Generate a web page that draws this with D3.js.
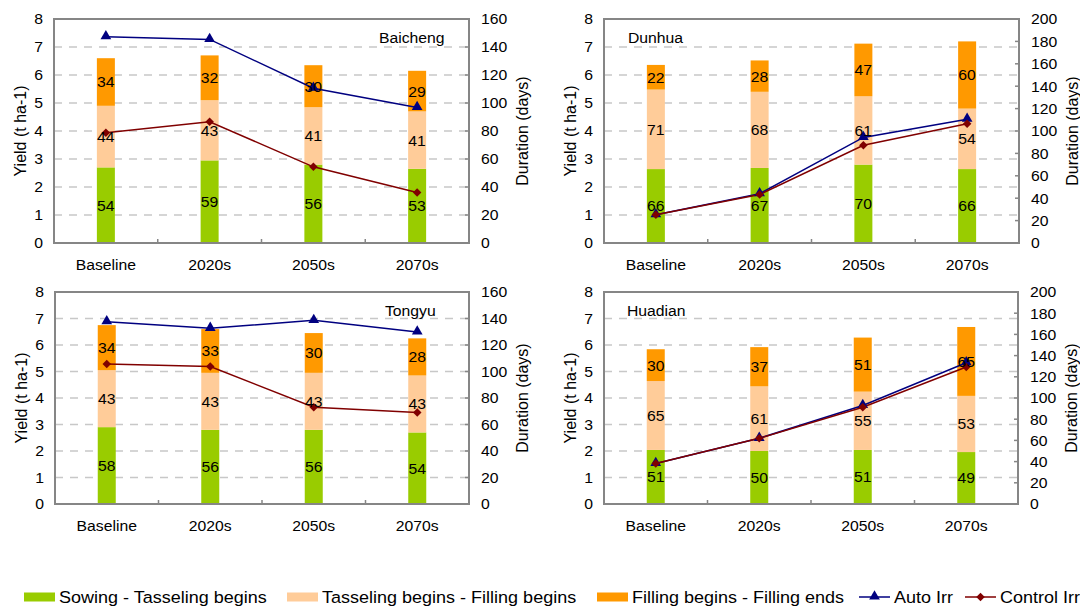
<!DOCTYPE html>
<html>
<head>
<meta charset="utf-8">
<script src="https://cdn.jsdelivr.net/npm/d3@7"></script>
<style>
  html, body { margin: 0; padding: 0; background: #fff; }
  svg text { font-family: "Liberation Sans", Arial, sans-serif; fill: #000; }
</style>
</head>
<body>
<svg id="chart" width="1080" height="608"></svg>
<script>
// ---------------- DATA ----------------
const categories = ["Baseline", "2020s", "2050s", "2070s"];
const stageNames = ["Sowing - Tasseling begins", "Tasseling begins - Filling begins", "Filling begins - Filling ends"];
const lineNames = ["Auto Irr", "Control Irr"];

// durations (days) per stage: sowing-tasseling, tasseling-filling, filling
const baichengSowTas = [54, 59, 56, 53];
const baichengTasFil = [44, 43, 41, 41];
const baichengFill   = [34, 32, 30, 29];
const baichengAuto    = [7.37, 7.27, 5.53, 4.84];
const baichengControl = [3.94, 4.33, 2.72, 1.80];

const dunhuaSowTas = [66, 67, 70, 66];
const dunhuaTasFil = [71, 68, 61, 54];
const dunhuaFill   = [22, 28, 47, 60];
const dunhuaAuto    = [1.01, 1.76, 3.77, 4.42];
const dunhuaControl = [1.01, 1.73, 3.49, 4.26];

const tongyuSowTas = [58, 56, 56, 54];
const tongyuTasFil = [43, 43, 43, 43];
const tongyuFill   = [34, 33, 30, 28];
const tongyuAuto    = [6.88, 6.63, 6.93, 6.49];
const tongyuControl = [5.28, 5.19, 3.65, 3.45];

const huadianSowTas = [51, 50, 51, 49];
const huadianTasFil = [65, 61, 55, 53];
const huadianFill   = [30, 37, 51, 65];
const huadianAuto    = [1.53, 2.48, 3.72, 5.33];
const huadianControl = [1.53, 2.48, 3.65, 5.17];

const yieldTicks = [0, 1, 2, 3, 4, 5, 6, 7, 8];
const durationTicks160 = [0, 20, 40, 60, 80, 100, 120, 140, 160];
const durationTicks200 = [0, 20, 40, 60, 80, 100, 120, 140, 160, 180, 200];

// ---------------- STYLE ----------------
const stageColors = ["#99CC00", "#FFCC99", "#FF9900"];
const autoColor = "#000080";
const ctrlColor = "#800000";
const axisColor = "#868686";
const gridColor = "#C8C8C8";
const SX = 1.05;     // slight horizontal stretch of text as in the reference
const FS = 15;       // base font size

const panels = [
  { site: "Baicheng", stages: [baichengSowTas, baichengTasFil, baichengFill], auto: baichengAuto, ctrl: baichengControl,
    dTicks: durationTicks160, left: 54, right: 469, top: 19, bottom: 243, titleX: 379 },
  { site: "Dunhua", stages: [dunhuaSowTas, dunhuaTasFil, dunhuaFill], auto: dunhuaAuto, ctrl: dunhuaControl,
    dTicks: durationTicks200, left: 604, right: 1019, top: 19, bottom: 243, titleX: 628 },
  { site: "Tongyu", stages: [tongyuSowTas, tongyuTasFil, tongyuFill], auto: tongyuAuto, ctrl: tongyuControl,
    dTicks: durationTicks160, left: 55, right: 469, top: 292, bottom: 504, titleX: 385 },
  { site: "Huadian", stages: [huadianSowTas, huadianTasFil, huadianFill], auto: huadianAuto, ctrl: huadianControl,
    dTicks: durationTicks200, left: 604, right: 1018, top: 292, bottom: 504, titleX: 627 }
];

const svg = d3.select("#chart");

function stext(parent, x, y, str, anchor, size, sx) {
  const g = parent.append("g").attr("transform", `translate(${x},${y}) scale(${sx === undefined ? SX : sx},1)`);
  return g.append("text")
    .attr("text-anchor", anchor || "middle")
    .attr("dy", "0.36em")
    .style("font-size", (size || FS) + "px")
    .text(str);
}

const triangle = d3.symbol(d3.symbolTriangle, 50)();
const diamond = d3.symbol(d3.symbolSquare, 36)();

panels.forEach(p => {
  const g = svg.append("g");
  const x = d3.scaleBand().domain(categories).range([p.left, p.right]).padding(0);
  const xc = c => x(c) + x.bandwidth() / 2;
  const y = d3.scaleLinear().domain([0, 8]).range([p.bottom, p.top]);
  const dMax = p.dTicks[p.dTicks.length - 1];
  const yd = d3.scaleLinear().domain([0, dMax]).range([p.bottom, p.top]);
  const barW = 18;

  // gridlines
  g.append("g").selectAll("line").data(yieldTicks.filter(t => t > 0 && t < 8)).join("line")
    .attr("x1", p.left).attr("x2", p.right)
    .attr("y1", d => y(d)).attr("y2", d => y(d))
    .attr("stroke", gridColor).attr("stroke-width", 1.5).attr("stroke-dasharray", "8,7");

  // stacked bars (duration, right axis)
  const stackData = categories.map((c, i) => ({ cat: c, s0: p.stages[0][i], s1: p.stages[1][i], s2: p.stages[2][i] }));
  const series = d3.stack().keys(["s0", "s1", "s2"])(stackData);
  series.forEach((s, si) => {
    g.append("g").selectAll("rect").data(s).join("rect")
      .attr("x", d => xc(d.data.cat) - barW / 2)
      .attr("width", barW)
      .attr("y", d => yd(d[1]))
      .attr("height", d => yd(d[0]) - yd(d[1]))
      .attr("fill", stageColors[si]);
  });

  // lines (yield, left axis)
  const line = d3.line().x((d, i) => xc(categories[i])).y(d => y(d));
  g.append("path").datum(p.auto).attr("d", line).attr("fill", "none").attr("stroke", autoColor).attr("stroke-width", 1.5);
  g.append("path").datum(p.ctrl).attr("d", line).attr("fill", "none").attr("stroke", ctrlColor).attr("stroke-width", 1.5);
  g.append("g").selectAll("path").data(p.auto).join("path")
    .attr("d", triangle)
    .attr("transform", (d, i) => `translate(${xc(categories[i])},${y(d) - 0.5})`)
    .attr("fill", autoColor);
  g.append("g").selectAll("path").data(p.ctrl).join("path")
    .attr("d", diamond)
    .attr("transform", (d, i) => `translate(${xc(categories[i])},${y(d)}) rotate(45)`)
    .attr("fill", ctrlColor);

  // data labels
  series.forEach(s => {
    s.forEach(d => {
      stext(g, xc(d.data.cat), yd((d[0] + d[1]) / 2), String(d[1] - d[0]));
    });
  });

  // frame
  g.append("rect").attr("x", p.left).attr("y", p.top)
    .attr("width", p.right - p.left).attr("height", p.bottom - p.top)
    .attr("fill", "none").attr("stroke", axisColor).attr("stroke-width", 2);

  // bottom axis tick marks at band boundaries (inward)
  g.append("g").selectAll("line").data(categories.slice(1)).join("line")
    .attr("x1", d => x(d)).attr("x2", d => x(d))
    .attr("y1", p.bottom).attr("y2", p.bottom - 4)
    .attr("stroke", axisColor).attr("stroke-width", 1.5);

  // right axis tick marks (inward)
  g.append("g").selectAll("line").data(p.dTicks.slice(1, -1)).join("line")
    .attr("x1", p.right).attr("x2", p.right - 4)
    .attr("y1", d => yd(d)).attr("y2", d => yd(d))
    .attr("stroke", axisColor).attr("stroke-width", 1.5);

  // left tick labels
  yieldTicks.forEach(t => stext(g, p.left - 11, y(t), String(t), "end"));
  // right tick labels
  p.dTicks.forEach(t => stext(g, p.right + 12, yd(t), String(t), "start"));
  // category labels
  categories.forEach(c => stext(g, xc(c), p.bottom + 22, c, "middle"));

  // axis titles
  const midY = (p.top + p.bottom) / 2;
  g.append("text")
    .attr("transform", `translate(${p.left - 34},${midY}) rotate(-90)`)
    .attr("text-anchor", "middle").attr("dy", "0.36em")
    .style("font-size", "16px").text("Yield (t ha-1)");
  g.append("text")
    .attr("transform", `translate(${p.right + 53},${midY}) rotate(-90)`)
    .attr("text-anchor", "middle").attr("dy", "0.36em")
    .style("font-size", "16px").text("Duration (days)");

  // site title
  stext(g, p.titleX, p.top + 19, p.site, "start");
});

// ---------------- LEGEND ----------------
const legendY = 597;
const leg = svg.append("g");
const legendItems = [
  { type: "rect", color: stageColors[0], label: stageNames[0], x: 24 },
  { type: "rect", color: stageColors[1], label: stageNames[1], x: 287 },
  { type: "rect", color: stageColors[2], label: stageNames[2], x: 597 },
  { type: "auto", color: autoColor, label: lineNames[0], x: 859 },
  { type: "ctrl", color: ctrlColor, label: lineNames[1], x: 965 }
];
legendItems.forEach(it => {
  if (it.type === "rect") {
    leg.append("rect").attr("x", it.x).attr("y", legendY - 4.5).attr("width", 31).attr("height", 9).attr("fill", it.color);
  } else {
    leg.append("line").attr("x1", it.x).attr("x2", it.x + 31).attr("y1", legendY).attr("y2", legendY)
      .attr("stroke", it.color).attr("stroke-width", 1.5);
    leg.append("path")
      .attr("d", it.type === "auto" ? triangle : diamond)
      .attr("transform", `translate(${it.x + 15.5},${legendY - (it.type === "auto" ? 0.5 : 0)})` + (it.type === "ctrl" ? " rotate(45)" : ""))
      .attr("fill", it.color);
  }
  stext(leg, it.x + 35, legendY, it.label, "start", 17, 1.06);
});
</script>
</body>
</html>
